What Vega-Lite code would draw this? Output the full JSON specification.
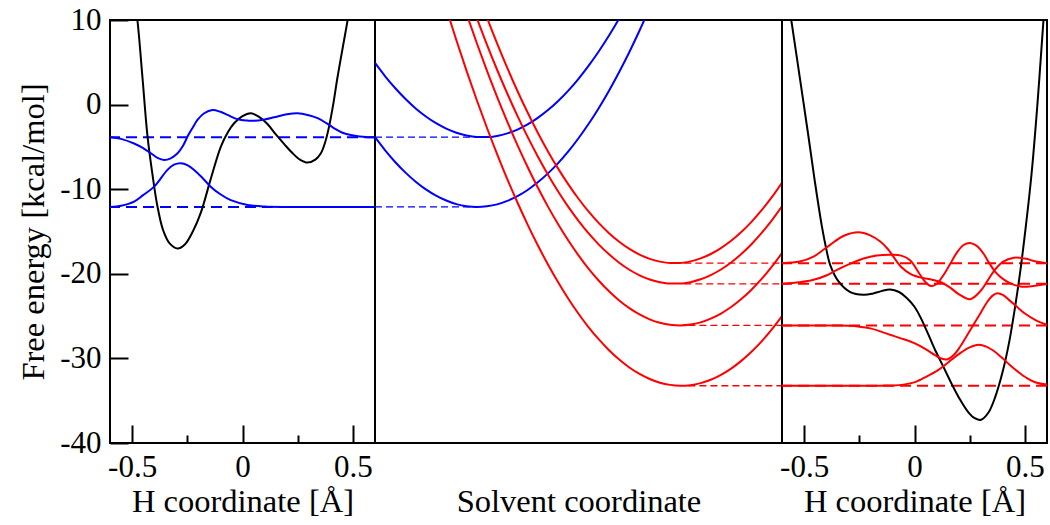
{
  "$schema": "https://vega.github.io/schema/vega-lite/v6.json",
  "background": "white",
  "padding": {"left": 15, "top": 3, "right": 0, "bottom": 0},
  "spacing": 0,
  "bounds": "flush",
  "config": {
    "view": {"stroke": "black", "strokeWidth": 2},
    "font": "Liberation Serif, Times New Roman, serif",
    "axis": {
      "labelFont": "Liberation Serif, Times New Roman, serif", "titleFont": "Liberation Serif, Times New Roman, serif",
      "labelFontSize": 31, "titleFontSize": 32.5, "labelColor": "black", "titleColor": "black",
      "titleFontWeight": "normal", "domain": false, "grid": false,
      "tickColor": "black", "tickWidth": 2
    }
  },
  "datasets": {
    "L": [
      {"k":"pot","c":"p","x":-0.5,"y":14.5},{"k":"pot","c":"p","x":-0.476,"y":10},{"k":"pot","c":"p","x":-0.453,"y":3.2},{"k":"pot","c":"p","x":-0.43,"y":-3.78},{"k":"pot","c":"p","x":-0.408,"y":-8.2},{"k":"pot","c":"p","x":-0.385,"y":-12.05},{"k":"pot","c":"p","x":-0.36,"y":-14.8},{"k":"pot","c":"p","x":-0.33,"y":-16.4},{"k":"pot","c":"p","x":-0.294,"y":-17.0},{"k":"pot","c":"p","x":-0.26,"y":-16.5},{"k":"pot","c":"p","x":-0.225,"y":-15.0},{"k":"pot","c":"p","x":-0.189,"y":-12.8},{"k":"pot","c":"p","x":-0.145,"y":-8.9},{"k":"pot","c":"p","x":-0.098,"y":-4.96},{"k":"pot","c":"p","x":-0.065,"y":-3.2},{"k":"pot","c":"p","x":-0.038,"y":-2.2},{"k":"pot","c":"p","x":0.0,"y":-1.35},{"k":"pot","c":"p","x":0.038,"y":-1.02},{"k":"pot","c":"p","x":0.075,"y":-1.45},{"k":"pot","c":"p","x":0.113,"y":-2.3},{"k":"pot","c":"p","x":0.15,"y":-3.5},{"k":"pot","c":"p","x":0.19,"y":-4.7},{"k":"pot","c":"p","x":0.225,"y":-5.7},{"k":"pot","c":"p","x":0.26,"y":-6.5},{"k":"pot","c":"p","x":0.294,"y":-6.85},{"k":"pot","c":"p","x":0.33,"y":-6.5},{"k":"pot","c":"p","x":0.355,"y":-5.75},{"k":"pot","c":"p","x":0.375,"y":-4.4},{"k":"pot","c":"p","x":0.392,"y":-2.6},{"k":"pot","c":"p","x":0.41,"y":-0.1},{"k":"pot","c":"p","x":0.43,"y":3.2},{"k":"pot","c":"p","x":0.455,"y":6.9},{"k":"pot","c":"p","x":0.476,"y":10},{"k":"pot","c":"p","x":0.495,"y":13.2},
      {"k":"reac","c":"w1","x":-0.6,"y":-3.85},{"k":"reac","c":"w1","x":-0.55,"y":-4.05},{"k":"reac","c":"w1","x":-0.491,"y":-4.6},{"k":"reac","c":"w1","x":-0.45,"y":-5.15},{"k":"reac","c":"w1","x":-0.415,"y":-5.75},{"k":"reac","c":"w1","x":-0.385,"y":-6.3},{"k":"reac","c":"w1","x":-0.355,"y":-6.55},{"k":"reac","c":"w1","x":-0.325,"y":-6.35},{"k":"reac","c":"w1","x":-0.294,"y":-5.75},{"k":"reac","c":"w1","x":-0.27,"y":-4.9},{"k":"reac","c":"w1","x":-0.249,"y":-3.78},{"k":"reac","c":"w1","x":-0.225,"y":-2.7},{"k":"reac","c":"w1","x":-0.204,"y":-1.81},{"k":"reac","c":"w1","x":-0.175,"y":-1.05},{"k":"reac","c":"w1","x":-0.136,"y":-0.63},{"k":"reac","c":"w1","x":-0.1,"y":-0.85},{"k":"reac","c":"w1","x":-0.068,"y":-1.22},{"k":"reac","c":"w1","x":-0.02,"y":-1.75},{"k":"reac","c":"w1","x":0.023,"y":-1.89},{"k":"reac","c":"w1","x":0.05,"y":-1.92},{"k":"reac","c":"w1","x":0.1,"y":-1.75},{"k":"reac","c":"w1","x":0.143,"y":-1.5},{"k":"reac","c":"w1","x":0.2,"y":-1.15},{"k":"reac","c":"w1","x":0.249,"y":-1.02},{"k":"reac","c":"w1","x":0.3,"y":-1.25},{"k":"reac","c":"w1","x":0.34,"y":-1.6},{"k":"reac","c":"w1","x":0.38,"y":-2.2},{"k":"reac","c":"w1","x":0.415,"y":-2.8},{"k":"reac","c":"w1","x":0.45,"y":-3.3},{"k":"reac","c":"w1","x":0.49,"y":-3.6},{"k":"reac","c":"w1","x":0.53,"y":-3.78},{"k":"reac","c":"w1","x":0.566,"y":-3.85},{"k":"reac","c":"w1","x":0.6,"y":-3.85},
      {"k":"reac","c":"w0","x":-0.6,"y":-12.1},{"k":"reac","c":"w0","x":-0.55,"y":-11.95},{"k":"reac","c":"w0","x":-0.491,"y":-11.46},{"k":"reac","c":"w0","x":-0.45,"y":-10.7},{"k":"reac","c":"w0","x":-0.4,"y":-9.7},{"k":"reac","c":"w0","x":-0.34,"y":-7.72},{"k":"reac","c":"w0","x":-0.31,"y":-7.1},{"k":"reac","c":"w0","x":-0.279,"y":-6.93},{"k":"reac","c":"w0","x":-0.25,"y":-7.15},{"k":"reac","c":"w0","x":-0.219,"y":-7.72},{"k":"reac","c":"w0","x":-0.18,"y":-8.7},{"k":"reac","c":"w0","x":-0.144,"y":-9.7},{"k":"reac","c":"w0","x":-0.1,"y":-10.6},{"k":"reac","c":"w0","x":-0.053,"y":-11.3},{"k":"reac","c":"w0","x":0.023,"y":-11.86},{"k":"reac","c":"w0","x":0.1,"y":-12.05},{"k":"reac","c":"w0","x":0.2,"y":-12.1},{"k":"reac","c":"w0","x":0.3,"y":-12.1},{"k":"reac","c":"w0","x":0.45,"y":-12.1},{"k":"reac","c":"w0","x":0.6,"y":-12.1}
    ],
    "lvL": [{"k":"reac","y":-3.85},{"k":"reac","y":-12.1}],
    "lvR": [{"k":"prod","y":-18.74},{"k":"prod","y":-21.18},{"k":"prod","y":-26.1},{"k":"prod","y":-33.23}],
    "lvM": [
      {"k":"reac","x1":0,"x2":0.265,"y":-3.85},{"k":"reac","x1":0,"x2":0.251,"y":-12.1},
      {"k":"prod","x1":0.76,"x2":1,"y":-18.74},{"k":"prod","x1":0.76,"x2":1,"y":-21.18},{"k":"prod","x1":0.77,"x2":1,"y":-26.1},{"k":"prod","x1":0.77,"x2":1,"y":-33.23}
    ],
    "M": [
      {"k":"reac","c":"bu","x":0,"y":4.93},{"k":"reac","c":"bu","x":0.025,"y":3.35},{"k":"reac","c":"bu","x":0.05,"y":1.93},{"k":"reac","c":"bu","x":0.075,"y":0.66},{"k":"reac","c":"bu","x":0.1,"y":-0.45},{"k":"reac","c":"bu","x":0.125,"y":-1.4},{"k":"reac","c":"bu","x":0.15,"y":-2.2},{"k":"reac","c":"bu","x":0.175,"y":-2.84},{"k":"reac","c":"bu","x":0.2,"y":-3.32},{"k":"reac","c":"bu","x":0.225,"y":-3.65},{"k":"reac","c":"bu","x":0.25,"y":-3.82},{"k":"reac","c":"bu","x":0.275,"y":-3.84},{"k":"reac","c":"bu","x":0.3,"y":-3.7},{"k":"reac","c":"bu","x":0.325,"y":-3.4},{"k":"reac","c":"bu","x":0.35,"y":-2.95},{"k":"reac","c":"bu","x":0.375,"y":-2.34},{"k":"reac","c":"bu","x":0.4,"y":-1.57},{"k":"reac","c":"bu","x":0.425,"y":-0.65},{"k":"reac","c":"bu","x":0.45,"y":0.43},{"k":"reac","c":"bu","x":0.475,"y":1.66},{"k":"reac","c":"bu","x":0.5,"y":3.05},{"k":"reac","c":"bu","x":0.525,"y":4.6},{"k":"reac","c":"bu","x":0.55,"y":6.3},{"k":"reac","c":"bu","x":0.575,"y":8.16},{"k":"reac","c":"bu","x":0.6,"y":10.18},{"k":"reac","c":"bu","x":0.625,"y":12.35},{"k":"reac","c":"bu","x":0.65,"y":14.68},
      {"k":"reac","c":"bl","x":0,"y":-3.85},{"k":"reac","c":"bl","x":0.025,"y":-5.41},{"k":"reac","c":"bl","x":0.05,"y":-6.81},{"k":"reac","c":"bl","x":0.075,"y":-8.04},{"k":"reac","c":"bl","x":0.1,"y":-9.11},{"k":"reac","c":"bl","x":0.125,"y":-10.02},{"k":"reac","c":"bl","x":0.15,"y":-10.76},{"k":"reac","c":"bl","x":0.175,"y":-11.34},{"k":"reac","c":"bl","x":0.2,"y":-11.76},{"k":"reac","c":"bl","x":0.225,"y":-12.01},{"k":"reac","c":"bl","x":0.25,"y":-12.1},{"k":"reac","c":"bl","x":0.275,"y":-12.02},{"k":"reac","c":"bl","x":0.3,"y":-11.79},{"k":"reac","c":"bl","x":0.325,"y":-11.38},{"k":"reac","c":"bl","x":0.35,"y":-10.82},{"k":"reac","c":"bl","x":0.375,"y":-10.09},{"k":"reac","c":"bl","x":0.4,"y":-9.19},{"k":"reac","c":"bl","x":0.425,"y":-8.13},{"k":"reac","c":"bl","x":0.45,"y":-6.91},{"k":"reac","c":"bl","x":0.475,"y":-5.53},{"k":"reac","c":"bl","x":0.5,"y":-3.98},{"k":"reac","c":"bl","x":0.525,"y":-2.27},{"k":"reac","c":"bl","x":0.55,"y":-0.39},{"k":"reac","c":"bl","x":0.575,"y":1.65},{"k":"reac","c":"bl","x":0.6,"y":3.86},{"k":"reac","c":"bl","x":0.625,"y":6.22},{"k":"reac","c":"bl","x":0.65,"y":8.76},{"k":"reac","c":"bl","x":0.675,"y":11.45},{"k":"reac","c":"bl","x":0.7,"y":14.31},
      {"k":"prod","c":"r1","x":0.25,"y":13.52},{"k":"prod","c":"r1","x":0.275,"y":10.29},{"k":"prod","c":"r1","x":0.3,"y":7.23},{"k":"prod","c":"r1","x":0.325,"y":4.33},{"k":"prod","c":"r1","x":0.35,"y":1.61},{"k":"prod","c":"r1","x":0.375,"y":-0.94},{"k":"prod","c":"r1","x":0.4,"y":-3.32},{"k":"prod","c":"r1","x":0.425,"y":-5.53},{"k":"prod","c":"r1","x":0.45,"y":-7.57},{"k":"prod","c":"r1","x":0.475,"y":-9.43},{"k":"prod","c":"r1","x":0.5,"y":-11.13},{"k":"prod","c":"r1","x":0.525,"y":-12.66},{"k":"prod","c":"r1","x":0.55,"y":-14.01},{"k":"prod","c":"r1","x":0.575,"y":-15.2},{"k":"prod","c":"r1","x":0.6,"y":-16.21},{"k":"prod","c":"r1","x":0.625,"y":-17.06},{"k":"prod","c":"r1","x":0.65,"y":-17.73},{"k":"prod","c":"r1","x":0.675,"y":-18.23},{"k":"prod","c":"r1","x":0.7,"y":-18.56},{"k":"prod","c":"r1","x":0.725,"y":-18.72},{"k":"prod","c":"r1","x":0.75,"y":-18.71},{"k":"prod","c":"r1","x":0.775,"y":-18.53},{"k":"prod","c":"r1","x":0.8,"y":-18.18},{"k":"prod","c":"r1","x":0.825,"y":-17.66},{"k":"prod","c":"r1","x":0.85,"y":-16.96},{"k":"prod","c":"r1","x":0.875,"y":-16.1},{"k":"prod","c":"r1","x":0.9,"y":-15.07},{"k":"prod","c":"r1","x":0.925,"y":-13.86},{"k":"prod","c":"r1","x":0.95,"y":-12.48},{"k":"prod","c":"r1","x":0.975,"y":-10.94},{"k":"prod","c":"r1","x":1.0,"y":-9.22},
      {"k":"prod","c":"r2","x":0.225,"y":13.55},{"k":"prod","c":"r2","x":0.25,"y":10.25},{"k":"prod","c":"r2","x":0.275,"y":7.1},{"k":"prod","c":"r2","x":0.3,"y":4.12},{"k":"prod","c":"r2","x":0.325,"y":1.31},{"k":"prod","c":"r2","x":0.35,"y":-1.34},{"k":"prod","c":"r2","x":0.375,"y":-3.82},{"k":"prod","c":"r2","x":0.4,"y":-6.13},{"k":"prod","c":"r2","x":0.425,"y":-8.28},{"k":"prod","c":"r2","x":0.45,"y":-10.27},{"k":"prod","c":"r2","x":0.475,"y":-12.09},{"k":"prod","c":"r2","x":0.5,"y":-13.74},{"k":"prod","c":"r2","x":0.525,"y":-15.23},{"k":"prod","c":"r2","x":0.55,"y":-16.55},{"k":"prod","c":"r2","x":0.575,"y":-17.7},{"k":"prod","c":"r2","x":0.6,"y":-18.69},{"k":"prod","c":"r2","x":0.625,"y":-19.52},{"k":"prod","c":"r2","x":0.65,"y":-20.18},{"k":"prod","c":"r2","x":0.675,"y":-20.67},{"k":"prod","c":"r2","x":0.7,"y":-21.0},{"k":"prod","c":"r2","x":0.725,"y":-21.16},{"k":"prod","c":"r2","x":0.75,"y":-21.16},{"k":"prod","c":"r2","x":0.775,"y":-20.99},{"k":"prod","c":"r2","x":0.8,"y":-20.65},{"k":"prod","c":"r2","x":0.825,"y":-20.15},{"k":"prod","c":"r2","x":0.85,"y":-19.49},{"k":"prod","c":"r2","x":0.875,"y":-18.66},{"k":"prod","c":"r2","x":0.9,"y":-17.66},{"k":"prod","c":"r2","x":0.925,"y":-16.5},{"k":"prod","c":"r2","x":0.95,"y":-15.17},{"k":"prod","c":"r2","x":0.975,"y":-13.68},{"k":"prod","c":"r2","x":1.0,"y":-12.02},
      {"k":"prod","c":"r3","x":0.2,"y":14.32},{"k":"prod","c":"r3","x":0.225,"y":10.72},{"k":"prod","c":"r3","x":0.25,"y":7.28},{"k":"prod","c":"r3","x":0.275,"y":4.01},{"k":"prod","c":"r3","x":0.3,"y":0.91},{"k":"prod","c":"r3","x":0.325,"y":-2.02},{"k":"prod","c":"r3","x":0.35,"y":-4.78},{"k":"prod","c":"r3","x":0.375,"y":-7.37},{"k":"prod","c":"r3","x":0.4,"y":-9.8},{"k":"prod","c":"r3","x":0.425,"y":-12.06},{"k":"prod","c":"r3","x":0.45,"y":-14.15},{"k":"prod","c":"r3","x":0.475,"y":-16.07},{"k":"prod","c":"r3","x":0.5,"y":-17.82},{"k":"prod","c":"r3","x":0.525,"y":-19.41},{"k":"prod","c":"r3","x":0.55,"y":-20.82},{"k":"prod","c":"r3","x":0.575,"y":-22.07},{"k":"prod","c":"r3","x":0.6,"y":-23.15},{"k":"prod","c":"r3","x":0.625,"y":-24.06},{"k":"prod","c":"r3","x":0.65,"y":-24.81},{"k":"prod","c":"r3","x":0.675,"y":-25.38},{"k":"prod","c":"r3","x":0.7,"y":-25.79},{"k":"prod","c":"r3","x":0.725,"y":-26.03},{"k":"prod","c":"r3","x":0.75,"y":-26.1},{"k":"prod","c":"r3","x":0.775,"y":-26.0},{"k":"prod","c":"r3","x":0.8,"y":-25.74},{"k":"prod","c":"r3","x":0.825,"y":-25.3},{"k":"prod","c":"r3","x":0.85,"y":-24.7},{"k":"prod","c":"r3","x":0.875,"y":-23.93},{"k":"prod","c":"r3","x":0.9,"y":-22.99},{"k":"prod","c":"r3","x":0.925,"y":-21.88},{"k":"prod","c":"r3","x":0.95,"y":-20.61},{"k":"prod","c":"r3","x":0.975,"y":-19.16},{"k":"prod","c":"r3","x":1.0,"y":-17.55},
      {"k":"prod","c":"r4","x":0.15,"y":15.33},{"k":"prod","c":"r4","x":0.175,"y":11.38},{"k":"prod","c":"r4","x":0.2,"y":7.6},{"k":"prod","c":"r4","x":0.225,"y":3.99},{"k":"prod","c":"r4","x":0.25,"y":0.54},{"k":"prod","c":"r4","x":0.275,"y":-2.74},{"k":"prod","c":"r4","x":0.3,"y":-5.85},{"k":"prod","c":"r4","x":0.325,"y":-8.8},{"k":"prod","c":"r4","x":0.35,"y":-11.57},{"k":"prod","c":"r4","x":0.375,"y":-14.18},{"k":"prod","c":"r4","x":0.4,"y":-16.63},{"k":"prod","c":"r4","x":0.425,"y":-18.9},{"k":"prod","c":"r4","x":0.45,"y":-21.01},{"k":"prod","c":"r4","x":0.475,"y":-22.95},{"k":"prod","c":"r4","x":0.5,"y":-24.72},{"k":"prod","c":"r4","x":0.525,"y":-26.33},{"k":"prod","c":"r4","x":0.55,"y":-27.76},{"k":"prod","c":"r4","x":0.575,"y":-29.03},{"k":"prod","c":"r4","x":0.6,"y":-30.13},{"k":"prod","c":"r4","x":0.625,"y":-31.07},{"k":"prod","c":"r4","x":0.65,"y":-31.84},{"k":"prod","c":"r4","x":0.675,"y":-32.44},{"k":"prod","c":"r4","x":0.7,"y":-32.87},{"k":"prod","c":"r4","x":0.725,"y":-33.13},{"k":"prod","c":"r4","x":0.75,"y":-33.23},{"k":"prod","c":"r4","x":0.775,"y":-33.16},{"k":"prod","c":"r4","x":0.8,"y":-32.92},{"k":"prod","c":"r4","x":0.825,"y":-32.52},{"k":"prod","c":"r4","x":0.85,"y":-31.94},{"k":"prod","c":"r4","x":0.875,"y":-31.2},{"k":"prod","c":"r4","x":0.9,"y":-30.29},{"k":"prod","c":"r4","x":0.925,"y":-29.22},{"k":"prod","c":"r4","x":0.95,"y":-27.98},{"k":"prod","c":"r4","x":0.975,"y":-26.57},{"k":"prod","c":"r4","x":1.0,"y":-24.99}
    ],
    "R": [
      {"k":"pot","c":"p","x":-0.575,"y":13},{"k":"pot","c":"p","x":-0.558,"y":10},{"k":"pot","c":"p","x":-0.52,"y":3.3},{"k":"pot","c":"p","x":-0.48,"y":-3.8},{"k":"pot","c":"p","x":-0.45,"y":-9.3},{"k":"pot","c":"p","x":-0.42,"y":-14.3},{"k":"pot","c":"p","x":-0.4,"y":-17.0},{"k":"pot","c":"p","x":-0.382,"y":-18.94},{"k":"pot","c":"p","x":-0.344,"y":-20.9},{"k":"pot","c":"p","x":-0.291,"y":-22.16},{"k":"pot","c":"p","x":-0.231,"y":-22.48},{"k":"pot","c":"p","x":-0.19,"y":-22.35},{"k":"pot","c":"p","x":-0.15,"y":-22.05},{"k":"pot","c":"p","x":-0.11,"y":-21.85},{"k":"pot","c":"p","x":-0.07,"y":-22.15},{"k":"pot","c":"p","x":-0.035,"y":-22.85},{"k":"pot","c":"p","x":0.0,"y":-23.9},{"k":"pot","c":"p","x":0.03,"y":-25.3},{"k":"pot","c":"p","x":0.063,"y":-27.2},{"k":"pot","c":"p","x":0.095,"y":-29.1},{"k":"pot","c":"p","x":0.131,"y":-31.0},{"k":"pot","c":"p","x":0.17,"y":-33.1},{"k":"pot","c":"p","x":0.207,"y":-34.9},{"k":"pot","c":"p","x":0.245,"y":-36.4},{"k":"pot","c":"p","x":0.275,"y":-37.1},{"k":"pot","c":"p","x":0.302,"y":-37.25},{"k":"pot","c":"p","x":0.335,"y":-36.4},{"k":"pot","c":"p","x":0.365,"y":-34.6},{"k":"pot","c":"p","x":0.4,"y":-31.5},{"k":"pot","c":"p","x":0.43,"y":-27.9},{"k":"pot","c":"p","x":0.455,"y":-24.0},{"k":"pot","c":"p","x":0.48,"y":-19.5},{"k":"pot","c":"p","x":0.505,"y":-14.2},{"k":"pot","c":"p","x":0.53,"y":-8.2},{"k":"pot","c":"p","x":0.555,"y":-0.5},{"k":"pot","c":"p","x":0.58,"y":8.5},{"k":"pot","c":"p","x":0.595,"y":14.0},
      {"k":"prod","c":"a","x":-0.6,"y":-33.23},{"k":"prod","c":"a","x":-0.45,"y":-33.23},{"k":"prod","c":"a","x":-0.3,"y":-33.23},{"k":"prod","c":"a","x":-0.15,"y":-33.22},{"k":"prod","c":"a","x":-0.1,"y":-33.2},{"k":"prod","c":"a","x":-0.05,"y":-33.1},{"k":"prod","c":"a","x":0.003,"y":-32.8},{"k":"prod","c":"a","x":0.056,"y":-32.12},{"k":"prod","c":"a","x":0.1,"y":-31.5},{"k":"prod","c":"a","x":0.131,"y":-30.93},{"k":"prod","c":"a","x":0.17,"y":-30.1},{"k":"prod","c":"a","x":0.207,"y":-29.37},{"k":"prod","c":"a","x":0.25,"y":-28.7},{"k":"prod","c":"a","x":0.29,"y":-28.39},{"k":"prod","c":"a","x":0.325,"y":-28.6},{"k":"prod","c":"a","x":0.358,"y":-29.1},{"k":"prod","c":"a","x":0.395,"y":-29.9},{"k":"prod","c":"a","x":0.433,"y":-30.8},{"k":"prod","c":"a","x":0.47,"y":-31.6},{"k":"prod","c":"a","x":0.509,"y":-32.32},{"k":"prod","c":"a","x":0.55,"y":-32.85},{"k":"prod","c":"a","x":0.6,"y":-33.1},
      {"k":"prod","c":"b","x":-0.6,"y":-26.1},{"k":"prod","c":"b","x":-0.45,"y":-26.1},{"k":"prod","c":"b","x":-0.35,"y":-26.12},{"k":"prod","c":"b","x":-0.3,"y":-26.15},{"k":"prod","c":"b","x":-0.25,"y":-26.25},{"k":"prod","c":"b","x":-0.2,"y":-26.45},{"k":"prod","c":"b","x":-0.155,"y":-26.8},{"k":"prod","c":"b","x":-0.11,"y":-27.2},{"k":"prod","c":"b","x":-0.065,"y":-27.6},{"k":"prod","c":"b","x":-0.019,"y":-28.0},{"k":"prod","c":"b","x":0.02,"y":-28.45},{"k":"prod","c":"b","x":0.056,"y":-29.0},{"k":"prod","c":"b","x":0.095,"y":-29.65},{"k":"prod","c":"b","x":0.125,"y":-30.05},{"k":"prod","c":"b","x":0.15,"y":-30.1},{"k":"prod","c":"b","x":0.178,"y":-29.6},{"k":"prod","c":"b","x":0.207,"y":-28.6},{"k":"prod","c":"b","x":0.235,"y":-27.4},{"k":"prod","c":"b","x":0.267,"y":-26.03},{"k":"prod","c":"b","x":0.3,"y":-24.6},{"k":"prod","c":"b","x":0.33,"y":-23.3},{"k":"prod","c":"b","x":0.355,"y":-22.55},{"k":"prod","c":"b","x":0.375,"y":-22.3},{"k":"prod","c":"b","x":0.4,"y":-22.5},{"k":"prod","c":"b","x":0.433,"y":-23.2},{"k":"prod","c":"b","x":0.464,"y":-23.9},{"k":"prod","c":"b","x":0.5,"y":-24.7},{"k":"prod","c":"b","x":0.55,"y":-25.5},{"k":"prod","c":"b","x":0.6,"y":-26.03},
      {"k":"prod","c":"c","x":-0.6,"y":-21.18},{"k":"prod","c":"c","x":-0.52,"y":-21.0},{"k":"prod","c":"c","x":-0.457,"y":-20.71},{"k":"prod","c":"c","x":-0.4,"y":-20.2},{"k":"prod","c":"c","x":-0.351,"y":-19.53},{"k":"prod","c":"c","x":-0.29,"y":-18.8},{"k":"prod","c":"c","x":-0.231,"y":-18.2},{"k":"prod","c":"c","x":-0.17,"y":-17.85},{"k":"prod","c":"c","x":-0.11,"y":-17.76},{"k":"prod","c":"c","x":-0.06,"y":-17.85},{"k":"prod","c":"c","x":-0.02,"y":-18.4},{"k":"prod","c":"c","x":0.02,"y":-19.9},{"k":"prod","c":"c","x":0.05,"y":-21.0},{"k":"prod","c":"c","x":0.075,"y":-21.45},{"k":"prod","c":"c","x":0.1,"y":-21.2},{"k":"prod","c":"c","x":0.13,"y":-20.2},{"k":"prod","c":"c","x":0.16,"y":-18.9},{"k":"prod","c":"c","x":0.192,"y":-17.5},{"k":"prod","c":"c","x":0.222,"y":-16.6},{"k":"prod","c":"c","x":0.252,"y":-16.35},{"k":"prod","c":"c","x":0.282,"y":-16.7},{"k":"prod","c":"c","x":0.312,"y":-17.6},{"k":"prod","c":"c","x":0.34,"y":-18.8},{"k":"prod","c":"c","x":0.37,"y":-19.9},{"k":"prod","c":"c","x":0.4,"y":-20.6},{"k":"prod","c":"c","x":0.44,"y":-21.2},{"k":"prod","c":"c","x":0.48,"y":-21.5},{"k":"prod","c":"c","x":0.52,"y":-21.5},{"k":"prod","c":"c","x":0.56,"y":-21.35},{"k":"prod","c":"c","x":0.6,"y":-21.2},
      {"k":"prod","c":"d","x":-0.6,"y":-18.74},{"k":"prod","c":"d","x":-0.52,"y":-18.55},{"k":"prod","c":"d","x":-0.457,"y":-17.96},{"k":"prod","c":"d","x":-0.42,"y":-17.3},{"k":"prod","c":"d","x":-0.382,"y":-16.58},{"k":"prod","c":"d","x":-0.32,"y":-15.5},{"k":"prod","c":"d","x":-0.254,"y":-15.08},{"k":"prod","c":"d","x":-0.2,"y":-15.45},{"k":"prod","c":"d","x":-0.155,"y":-16.19},{"k":"prod","c":"d","x":-0.12,"y":-17.1},{"k":"prod","c":"d","x":-0.095,"y":-18.0},{"k":"prod","c":"d","x":-0.06,"y":-19.2},{"k":"prod","c":"d","x":-0.019,"y":-20.0},{"k":"prod","c":"d","x":0.03,"y":-20.45},{"k":"prod","c":"d","x":0.08,"y":-20.7},{"k":"prod","c":"d","x":0.12,"y":-21.0},{"k":"prod","c":"d","x":0.16,"y":-21.6},{"k":"prod","c":"d","x":0.2,"y":-22.4},{"k":"prod","c":"d","x":0.252,"y":-23.0},{"k":"prod","c":"d","x":0.3,"y":-22.0},{"k":"prod","c":"d","x":0.358,"y":-19.73},{"k":"prod","c":"d","x":0.4,"y":-18.6},{"k":"prod","c":"d","x":0.45,"y":-18.1},{"k":"prod","c":"d","x":0.5,"y":-18.2},{"k":"prod","c":"d","x":0.55,"y":-18.55},{"k":"prod","c":"d","x":0.6,"y":-18.74}
    ]
  },
  "hconcat": [
    {
      "width": 265, "height": 423,
      "layer": [
        {
          "data": {"name": "lvL"},
          "mark": {"type": "rule", "strokeWidth": 2, "strokeDash": [11, 6]},
          "encoding": {
            "y": {"field": "y", "type": "quantitative", "scale": {"domain": [-40, 10], "nice": false, "zero": false},
              "axis": {"title": "Free energy [kcal/mol]", "values": [-40, -30, -20, -10, 0, 10], "tickSize": -18, "labelPadding": 27,
                "labelExpr": "toString(datum.value)", "titleX": -67, "titleY": 211.5, "titleBaseline": "alphabetic", "titleAngle": 270}},
            "color": {"field": "k", "type": "nominal", "scale": {"domain": ["pot", "reac", "prod"], "range": ["black", "#0000ff", "#ff0000"]}, "legend": null}
          }
        },
        {
          "data": {"name": "L"},
          "mark": {"type": "line", "interpolate": "catmull-rom", "clip": true, "strokeWidth": 2},
          "encoding": {
            "x": {"field": "x", "type": "quantitative", "scale": {"domain": [-0.6, 0.6], "nice": false, "zero": false},
              "axis": {"title": "H coordinate [Å]", "values": [-0.5, -0.25, 0, 0.25, 0.5],
                "labelExpr": "abs(datum.value) == 0.25 ? '' : toString(datum.value)",
                "tickSize": {"condition": {"test": "abs(datum.value) == 0.25", "value": -8}, "value": -18},
                "labelPadding": 27, "labelFlush": false, "titleY": 68, "titleBaseline": "alphabetic"}},
            "y": {"field": "y", "type": "quantitative"},
            "detail": {"field": "c"},
            "color": {"field": "k", "type": "nominal", "legend": null}
          }
        }
      ]
    },
    {
      "width": 407, "height": 423,
      "layer": [
        {
          "data": {"name": "lvM"},
          "mark": {"type": "rule", "strokeWidth": 1.3, "strokeDash": [7, 4]},
          "encoding": {
            "x": {"field": "x1", "type": "quantitative", "scale": {"domain": [0, 1], "nice": false, "zero": false},
              "axis": {"title": "Solvent coordinate", "labels": false, "ticks": false, "titleY": 68, "titleBaseline": "alphabetic"}},
            "x2": {"field": "x2"},
            "y": {"field": "y", "type": "quantitative", "scale": {"domain": [-40, 10], "nice": false, "zero": false}, "axis": null},
            "color": {"field": "k", "type": "nominal", "legend": null}
          }
        },
        {
          "data": {"name": "M"},
          "mark": {"type": "line", "interpolate": "monotone", "clip": true, "strokeWidth": 2},
          "encoding": {
            "x": {"field": "x", "type": "quantitative"},
            "y": {"field": "y", "type": "quantitative"},
            "detail": {"field": "c"},
            "color": {"field": "k", "type": "nominal", "legend": null}
          }
        }
      ]
    },
    {
      "width": 265, "height": 423,
      "layer": [
        {
          "data": {"name": "lvR"},
          "mark": {"type": "rule", "strokeWidth": 2, "strokeDash": [11, 6]},
          "encoding": {
            "y": {"field": "y", "type": "quantitative", "scale": {"domain": [-40, 10], "nice": false, "zero": false}, "axis": null},
            "color": {"field": "k", "type": "nominal", "legend": null}
          }
        },
        {
          "data": {"name": "R"},
          "mark": {"type": "line", "interpolate": "catmull-rom", "clip": true, "strokeWidth": 2},
          "encoding": {
            "x": {"field": "x", "type": "quantitative", "scale": {"domain": [-0.6, 0.6], "nice": false, "zero": false},
              "axis": {"title": "H coordinate [Å]", "values": [-0.5, -0.25, 0, 0.25, 0.5],
                "labelExpr": "abs(datum.value) == 0.25 ? '' : toString(datum.value)",
                "tickSize": {"condition": {"test": "abs(datum.value) == 0.25", "value": -8}, "value": -18},
                "labelPadding": 27, "labelFlush": false, "titleY": 68, "titleBaseline": "alphabetic"}},
            "y": {"field": "y", "type": "quantitative"},
            "detail": {"field": "c"},
            "color": {"field": "k", "type": "nominal", "legend": null}
          }
        }
      ]
    }
  ]
}
